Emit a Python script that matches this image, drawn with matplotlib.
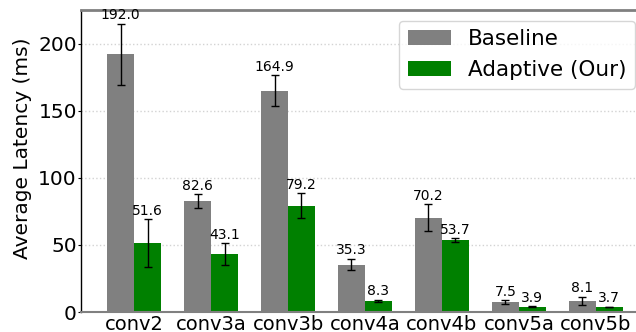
import matplotlib.pyplot as plt
import numpy as np

layers = ["conv2", "conv3a", "conv3b", "conv4a", "conv4b", "conv5a", "conv5b"]
baseline = [192.0, 82.6, 164.9, 35.3, 70.2, 7.5, 8.1]
baseline_err = [22.7, 5.0, 11.5, 4.3, 10.2, 1.2, 3.2]
adaptive = [51.6, 43.1, 79.2, 8.3, 53.7, 3.9, 3.7]
adaptive_err = [17.7, 8.0, 9.4, 0.9, 1.5, 0.4, 0.3]

x = np.arange(len(layers))
width = 0.35

fig = plt.figure(figsize=(6.36, 3.32), dpi=100)
ax = fig.add_axes([0.1274, 0.0602, 0.888, 0.9097])

err_kw = dict(ecolor="black", elinewidth=1, capsize=3, capthick=1)
ax.bar(x - width / 2, baseline, width, yerr=baseline_err, color="gray",
       label="Baseline", error_kw=err_kw, zorder=2)
ax.bar(x + width / 2, adaptive, width, yerr=adaptive_err, color="green",
       label="Adaptive (Our)", error_kw=err_kw, zorder=2)

for xs, vals, errs in [(x - width / 2, baseline, baseline_err),
                       (x + width / 2, adaptive, adaptive_err)]:
    for xi, v, e in zip(xs, vals, errs):
        ax.annotate(f"{v:.1f}", (xi, v + e), xytext=(0, 1),
                    textcoords="offset points", ha="center", va="bottom",
                    fontsize=10)

ax.set_xlim(-0.69, 6.65)
ax.set_ylim(0, 225)
ax.set_yticks([0, 50, 100, 150, 200])
ax.set_xticks(x)
ax.set_xticklabels(layers)
ax.tick_params(axis="x", length=0, labelsize=14, pad=2)
ax.tick_params(axis="y", length=2, labelsize=14.5, pad=1)
ax.set_ylabel("Average Latency (ms)", fontsize=14.5)
ax.yaxis.set_label_coords(-0.087, 0.543)

ax.yaxis.grid(True, linestyle=":", color="lightgray", linewidth=1, zorder=0)
ax.set_axisbelow(True)

ax.spines["right"].set_visible(False)
ax.spines["top"].set_color("gray")
ax.spines["top"].set_linewidth(2)
ax.spines["bottom"].set_color("gray")
ax.spines["bottom"].set_linewidth(1.5)
ax.spines["left"].set_color("black")
ax.spines["left"].set_linewidth(1)

ax.legend(loc="upper right", fontsize=15.5)

fig.savefig("out.png", dpi=100)
